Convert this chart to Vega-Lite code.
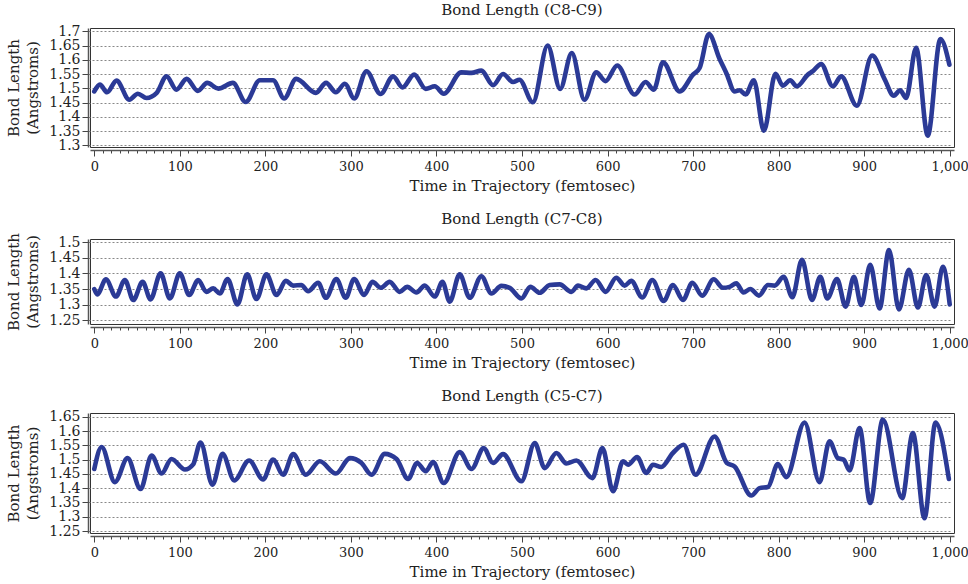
{
  "$schema": "https://vega.github.io/schema/vega-lite/v6.json",
  "padding": {"left": 6, "top": 2, "right": 0, "bottom": 0},
  "background": "white",
  "spacing": 17,
  "datasets": {
    "p1": [
      {"t": 0, "v": 1.489}, {"t": 6.6, "v": 1.513}, {"t": 15, "v": 1.486}, {"t": 26, "v": 1.527}, {"t": 41, "v": 1.46}, {"t": 51, "v": 1.481}, {"t": 61, "v": 1.466}, {"t": 73, "v": 1.484}, {"t": 84.5, "v": 1.542}, {"t": 96, "v": 1.495}, {"t": 108, "v": 1.533}, {"t": 121, "v": 1.491}, {"t": 132, "v": 1.519}, {"t": 145, "v": 1.499}, {"t": 162, "v": 1.519}, {"t": 177, "v": 1.452}, {"t": 193.5, "v": 1.528}, {"t": 209, "v": 1.528}, {"t": 222, "v": 1.464}, {"t": 236, "v": 1.533}, {"t": 259, "v": 1.484}, {"t": 271, "v": 1.519}, {"t": 282.4, "v": 1.486}, {"t": 293, "v": 1.516}, {"t": 303.8, "v": 1.464}, {"t": 318.2, "v": 1.56}, {"t": 334.6, "v": 1.48}, {"t": 349.3, "v": 1.542}, {"t": 360.3, "v": 1.503}, {"t": 373.9, "v": 1.548}, {"t": 387.5, "v": 1.498}, {"t": 398, "v": 1.507}, {"t": 408.5, "v": 1.481}, {"t": 429, "v": 1.556}, {"t": 440.9, "v": 1.554}, {"t": 452.5, "v": 1.562}, {"t": 466.2, "v": 1.511}, {"t": 477.8, "v": 1.55}, {"t": 489.5, "v": 1.522}, {"t": 497, "v": 1.53}, {"t": 512.7, "v": 1.451}, {"t": 530, "v": 1.65}, {"t": 544.6, "v": 1.498}, {"t": 558.2, "v": 1.624}, {"t": 573, "v": 1.46}, {"t": 586.8, "v": 1.556}, {"t": 597.7, "v": 1.525}, {"t": 611.3, "v": 1.58}, {"t": 631.6, "v": 1.478}, {"t": 644.5, "v": 1.522}, {"t": 654, "v": 1.495}, {"t": 664.8, "v": 1.591}, {"t": 684.3, "v": 1.489}, {"t": 699.9, "v": 1.548}, {"t": 707.6, "v": 1.571}, {"t": 718.5, "v": 1.69}, {"t": 731, "v": 1.603}, {"t": 738.8, "v": 1.554}, {"t": 748.6, "v": 1.489}, {"t": 754.4, "v": 1.493}, {"t": 761.4, "v": 1.478}, {"t": 771, "v": 1.528}, {"t": 782.8, "v": 1.351}, {"t": 796.3, "v": 1.551}, {"t": 804.9, "v": 1.509}, {"t": 813.5, "v": 1.528}, {"t": 821.3, "v": 1.507}, {"t": 834.2, "v": 1.548}, {"t": 840, "v": 1.56}, {"t": 849.7, "v": 1.585}, {"t": 863.4, "v": 1.507}, {"t": 873.1, "v": 1.542}, {"t": 891.4, "v": 1.439}, {"t": 909.3, "v": 1.615}, {"t": 923.7, "v": 1.533}, {"t": 934.6, "v": 1.474}, {"t": 942, "v": 1.493}, {"t": 949, "v": 1.466}, {"t": 960.7, "v": 1.642}, {"t": 974.3, "v": 1.334}, {"t": 989.1, "v": 1.673}, {"t": 999.6, "v": 1.583}
    ],
    "p2": [
      {"t": 0, "v": 1.35}, {"t": 3.5, "v": 1.333}, {"t": 13.6, "v": 1.381}, {"t": 25.3, "v": 1.326}, {"t": 35.8, "v": 1.379}, {"t": 45.6, "v": 1.315}, {"t": 56.5, "v": 1.373}, {"t": 65.8, "v": 1.317}, {"t": 77.5, "v": 1.4}, {"t": 88.4, "v": 1.32}, {"t": 100, "v": 1.4}, {"t": 111, "v": 1.331}, {"t": 121.5, "v": 1.379}, {"t": 131, "v": 1.341}, {"t": 139, "v": 1.352}, {"t": 146.8, "v": 1.336}, {"t": 155.8, "v": 1.382}, {"t": 167.4, "v": 1.301}, {"t": 178.7, "v": 1.397}, {"t": 189.6, "v": 1.318}, {"t": 201.3, "v": 1.397}, {"t": 213, "v": 1.331}, {"t": 224, "v": 1.376}, {"t": 232.5, "v": 1.361}, {"t": 242, "v": 1.363}, {"t": 250, "v": 1.343}, {"t": 261.7, "v": 1.37}, {"t": 270.7, "v": 1.322}, {"t": 283, "v": 1.382}, {"t": 293.9, "v": 1.322}, {"t": 303.8, "v": 1.382}, {"t": 315.4, "v": 1.331}, {"t": 325.2, "v": 1.373}, {"t": 334.9, "v": 1.354}, {"t": 345.3, "v": 1.373}, {"t": 357, "v": 1.341}, {"t": 365.7, "v": 1.357}, {"t": 376.6, "v": 1.339}, {"t": 386.3, "v": 1.361}, {"t": 398, "v": 1.326}, {"t": 407, "v": 1.373}, {"t": 415.5, "v": 1.31}, {"t": 427.2, "v": 1.397}, {"t": 438.9, "v": 1.322}, {"t": 452.5, "v": 1.391}, {"t": 464.2, "v": 1.336}, {"t": 475.9, "v": 1.36}, {"t": 485.6, "v": 1.354}, {"t": 499.3, "v": 1.32}, {"t": 509.8, "v": 1.357}, {"t": 520.7, "v": 1.338}, {"t": 532.4, "v": 1.363}, {"t": 544, "v": 1.365}, {"t": 557.7, "v": 1.341}, {"t": 565.5, "v": 1.361}, {"t": 575.2, "v": 1.352}, {"t": 586.1, "v": 1.379}, {"t": 597.8, "v": 1.341}, {"t": 610.2, "v": 1.386}, {"t": 620, "v": 1.361}, {"t": 627.7, "v": 1.376}, {"t": 640.6, "v": 1.323}, {"t": 652.3, "v": 1.379}, {"t": 665.6, "v": 1.312}, {"t": 676.4, "v": 1.363}, {"t": 688.2, "v": 1.315}, {"t": 699.1, "v": 1.37}, {"t": 710.7, "v": 1.329}, {"t": 724, "v": 1.381}, {"t": 734.9, "v": 1.354}, {"t": 742.7, "v": 1.357}, {"t": 750.5, "v": 1.368}, {"t": 759, "v": 1.339}, {"t": 766.9, "v": 1.35}, {"t": 777, "v": 1.329}, {"t": 787.5, "v": 1.363}, {"t": 795.3, "v": 1.361}, {"t": 805.9, "v": 1.389}, {"t": 816, "v": 1.324}, {"t": 827.3, "v": 1.443}, {"t": 839, "v": 1.315}, {"t": 848.7, "v": 1.389}, {"t": 856.9, "v": 1.32}, {"t": 868.2, "v": 1.382}, {"t": 878.3, "v": 1.294}, {"t": 888, "v": 1.389}, {"t": 896.6, "v": 1.299}, {"t": 907.1, "v": 1.427}, {"t": 918, "v": 1.288}, {"t": 929, "v": 1.474}, {"t": 940.6, "v": 1.285}, {"t": 952.3, "v": 1.411}, {"t": 962.8, "v": 1.291}, {"t": 972.5, "v": 1.395}, {"t": 982.3, "v": 1.294}, {"t": 992, "v": 1.421}, {"t": 1000, "v": 1.301}
    ],
    "p3": [
      {"t": 0, "v": 1.467}, {"t": 8.6, "v": 1.544}, {"t": 24.1, "v": 1.421}, {"t": 38.9, "v": 1.505}, {"t": 54.1, "v": 1.397}, {"t": 67, "v": 1.514}, {"t": 78.7, "v": 1.451}, {"t": 90.3, "v": 1.502}, {"t": 106, "v": 1.465}, {"t": 115.6, "v": 1.483}, {"t": 124.2, "v": 1.56}, {"t": 138.2, "v": 1.412}, {"t": 150, "v": 1.52}, {"t": 163.6, "v": 1.427}, {"t": 181, "v": 1.497}, {"t": 197.4, "v": 1.43}, {"t": 209, "v": 1.5}, {"t": 220.8, "v": 1.447}, {"t": 232.5, "v": 1.519}, {"t": 247.3, "v": 1.447}, {"t": 263.6, "v": 1.494}, {"t": 282.4, "v": 1.451}, {"t": 298.8, "v": 1.505}, {"t": 312.4, "v": 1.488}, {"t": 324.1, "v": 1.447}, {"t": 339.6, "v": 1.52}, {"t": 353.3, "v": 1.502}, {"t": 366.9, "v": 1.432}, {"t": 377.4, "v": 1.488}, {"t": 387.5, "v": 1.459}, {"t": 396, "v": 1.491}, {"t": 408.5, "v": 1.418}, {"t": 427.2, "v": 1.526}, {"t": 440.9, "v": 1.467}, {"t": 455.3, "v": 1.54}, {"t": 466.2, "v": 1.488}, {"t": 477.8, "v": 1.519}, {"t": 499.3, "v": 1.424}, {"t": 514.9, "v": 1.558}, {"t": 526.6, "v": 1.47}, {"t": 540.2, "v": 1.523}, {"t": 551.9, "v": 1.486}, {"t": 563.6, "v": 1.497}, {"t": 582.3, "v": 1.435}, {"t": 594, "v": 1.54}, {"t": 606.4, "v": 1.389}, {"t": 618.1, "v": 1.494}, {"t": 624, "v": 1.482}, {"t": 634.5, "v": 1.509}, {"t": 645.3, "v": 1.453}, {"t": 653.1, "v": 1.482}, {"t": 662.8, "v": 1.474}, {"t": 676.4, "v": 1.523}, {"t": 688.9, "v": 1.552}, {"t": 702.9, "v": 1.447}, {"t": 725.1, "v": 1.581}, {"t": 739.5, "v": 1.488}, {"t": 748.5, "v": 1.476}, {"t": 768, "v": 1.374}, {"t": 777.7, "v": 1.4}, {"t": 787.5, "v": 1.404}, {"t": 799.1, "v": 1.484}, {"t": 808.9, "v": 1.438}, {"t": 830.3, "v": 1.63}, {"t": 847.8, "v": 1.421}, {"t": 859.5, "v": 1.564}, {"t": 869.2, "v": 1.505}, {"t": 875.9, "v": 1.5}, {"t": 882.9, "v": 1.462}, {"t": 894.6, "v": 1.61}, {"t": 907, "v": 1.348}, {"t": 921.8, "v": 1.64}, {"t": 944.4, "v": 1.365}, {"t": 956.9, "v": 1.593}, {"t": 970.5, "v": 1.295}, {"t": 983.4, "v": 1.63}, {"t": 999, "v": 1.432}
    ]
  },
  "vconcat": [
    {
      "title": {"text": "Bond Length (C8-C9)"},
      "width": 864,
      "height": 119,
      "data": {"name": "p1"},
      "mark": {"type": "line", "interpolate": "monotone", "color": "#2b3a96", "strokeWidth": 4.6, "strokeCap": "round", "strokeJoin": "round", "clip": true},
      "encoding": {
        "x": {"field": "t", "type": "quantitative", "scale": {"domain": [-5, 1005], "nice": false, "zero": false},
          "axis": {"title": "Time in Trajectory (femtosec)", "values": [0,10,20,30,40,50,60,70,80,90,100,110,120,130,140,150,160,170,180,190,200,210,220,230,240,250,260,270,280,290,300,310,320,330,340,350,360,370,380,390,400,410,420,430,440,450,460,470,480,490,500,510,520,530,540,550,560,570,580,590,600,610,620,630,640,650,660,670,680,690,700,710,720,730,740,750,760,770,780,790,800,810,820,830,840,850,860,870,880,890,900,910,920,930,940,950,960,970,980,990,1000]}},
        "y": {"field": "v", "type": "quantitative", "scale": {"domain": [1.294, 1.7116], "nice": false, "zero": false},
          "axis": {"title": ["Bond Length", "(Angstroms)"], "values": [1.3, 1.35, 1.4, 1.45, 1.5, 1.55, 1.6, 1.65, 1.7]}}
      }
    },
    {
      "title": {"text": "Bond Length (C7-C8)"},
      "width": 864,
      "height": 85,
      "data": {"name": "p2"},
      "mark": {"type": "line", "interpolate": "monotone", "color": "#2b3a96", "strokeWidth": 4.6, "strokeCap": "round", "strokeJoin": "round", "clip": true},
      "encoding": {
        "x": {"field": "t", "type": "quantitative", "scale": {"domain": [-5, 1005], "nice": false, "zero": false},
          "axis": {"title": "Time in Trajectory (femtosec)", "values": [0,10,20,30,40,50,60,70,80,90,100,110,120,130,140,150,160,170,180,190,200,210,220,230,240,250,260,270,280,290,300,310,320,330,340,350,360,370,380,390,400,410,420,430,440,450,460,470,480,490,500,510,520,530,540,550,560,570,580,590,600,610,620,630,640,650,660,670,680,690,700,710,720,730,740,750,760,770,780,790,800,810,820,830,840,850,860,870,880,890,900,910,920,930,940,950,960,970,980,990,1000]}},
        "y": {"field": "v", "type": "quantitative", "scale": {"domain": [1.2385, 1.5096], "nice": false, "zero": false},
          "axis": {"title": ["Bond Length", "(Angstroms)"], "values": [1.25, 1.3, 1.35, 1.4, 1.45, 1.5]}}
      }
    },
    {
      "title": {"text": "Bond Length (C5-C7)"},
      "width": 864,
      "height": 120,
      "data": {"name": "p3"},
      "mark": {"type": "line", "interpolate": "monotone", "color": "#2b3a96", "strokeWidth": 4.6, "strokeCap": "round", "strokeJoin": "round", "clip": true},
      "encoding": {
        "x": {"field": "t", "type": "quantitative", "scale": {"domain": [-5, 1005], "nice": false, "zero": false},
          "axis": {"title": "Time in Trajectory (femtosec)", "values": [0,10,20,30,40,50,60,70,80,90,100,110,120,130,140,150,160,170,180,190,200,210,220,230,240,250,260,270,280,290,300,310,320,330,340,350,360,370,380,390,400,410,420,430,440,450,460,470,480,490,500,510,520,530,540,550,560,570,580,590,600,610,620,630,640,650,660,670,680,690,700,710,720,730,740,750,760,770,780,790,800,810,820,830,840,850,860,870,880,890,900,910,920,930,940,950,960,970,980,990,1000]}},
        "y": {"field": "v", "type": "quantitative", "scale": {"domain": [1.243, 1.663], "nice": false, "zero": false},
          "axis": {"title": ["Bond Length", "(Angstroms)"], "values": [1.25, 1.3, 1.35, 1.4, 1.45, 1.5, 1.55, 1.6, 1.65]}}
      }
    }
  ],
  "config": {
    "font": "DejaVu Serif",
    "view": {"stroke": "#333333", "strokeWidth": 1},
    "title": {"font": "DejaVu Serif", "fontSize": 15, "fontWeight": "normal", "color": "#222222", "anchor": "middle", "frame": "group", "offset": 6},
    "axis": {
      "labelFont": "DejaVu Serif", "labelFontSize": 14, "labelColor": "#222222",
      "titleFont": "DejaVu Serif", "titleFontSize": 15, "titleFontWeight": "normal", "titleColor": "#222222",
      "domainColor": "#555555", "domainWidth": 1.5, "tickColor": "#444444", "tickWidth": 1,
      "gridColor": "#888888", "gridDash": [2, 2], "gridWidth": 1
    },
    "axisX": {
      "offset": 3, "labelPadding": 4, "labelFontSize": 13, "labelFlush": false, "labelOverlap": false, "labelBound": false, "titlePadding": 5,
      "labelExpr": "datum.value % 100 === 0 ? format(datum.value, ',') : ''",
      "tickSize": {"condition": {"test": "datum.value % 100 === 0", "value": 6}, "value": 3},
      "gridOpacity": {"condition": {"test": "datum.value % 100 === 0", "value": 1}, "value": 0}
    },
    "axisY": {
      "offset": 2, "tickSize": 6, "labelPadding": 2, "labelFontSize": 14, "labelFlush": false, "labelOverlap": false,
      "labelExpr": "format(datum.value, '.2~f')",
      "titlePadding": 8, "titleLineHeight": 19
    }
  }
}
